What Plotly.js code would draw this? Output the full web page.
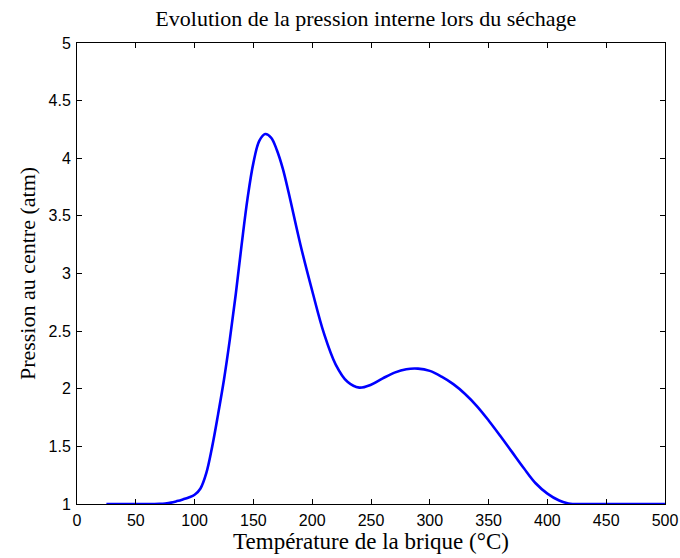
<!DOCTYPE html>
<html>
<head>
<meta charset="utf-8">
<script src="https://cdn.plot.ly/plotly-3.0.1.min.js"></script>
<style>
html,body{margin:0;padding:0;background:#fff;}
#chart{width:680px;height:558px;}
</style>
</head>
<body>
<div id="chart"></div>
<script>
const temperature = [25, 40, 50, 60, 70, 75, 80, 85, 90, 95, 100, 105, 110, 115, 120, 125, 130, 135, 140, 145, 150, 155, 160, 165, 170, 175, 180, 190, 200, 210, 220, 230, 240, 250, 260, 270, 280, 290, 300, 310, 320, 330, 340, 350, 360, 370, 380, 390, 400, 410, 418, 430, 450, 475, 500];
const pressure    = [1.0, 1.0, 1.0, 1.0, 1.002, 1.005, 1.012, 1.025, 1.04, 1.057, 1.08, 1.135, 1.27, 1.5, 1.78, 2.08, 2.43, 2.82, 3.25, 3.65, 3.96, 4.15, 4.21, 4.18, 4.07, 3.91, 3.70, 3.25, 2.85, 2.48, 2.21, 2.06, 2.01, 2.035, 2.09, 2.14, 2.17, 2.175, 2.155, 2.105, 2.04, 1.955, 1.85, 1.725, 1.59, 1.45, 1.31, 1.18, 1.09, 1.03, 1.005, 1.0, 1.0, 1.0, 1.0];
const xTicks = [0, 50, 100, 150, 200, 250, 300, 350, 400, 450, 500];
const yTicks = [1, 1.5, 2, 2.5, 3, 3.5, 4, 4.5, 5];

const trace = {
  x: temperature,
  y: pressure,
  type: 'scatter',
  mode: 'lines',
  line: {color: '#0000ff', width: 2.6, shape: 'spline', smoothing: 1},
  hoverinfo: 'x+y'
};

const axisCommon = {
  showline: true,
  linecolor: '#000',
  linewidth: 1,
  mirror: 'ticks',
  ticks: 'inside',
  ticklen: 5,
  tickcolor: '#000',
  tickwidth: 1,
  showgrid: false,
  zeroline: false,
  tickfont: {family: 'Liberation Sans, Arial, sans-serif', size: 16, color: '#000'}
};

const layout = {
  width: 680,
  height: 558,
  margin: {l: 77, r: 15, t: 43, b: 54, pad: 0},
  paper_bgcolor: '#fff',
  plot_bgcolor: '#fff',
  showlegend: false,
  title: {
    text: 'Evolution de la pression interne lors du séchage',
    font: {family: 'Liberation Serif, Times New Roman, serif', size: 22, color: '#000'},
    x: 0.538, xanchor: 'center', y: 0.967, yanchor: 'middle'
  },
  xaxis: Object.assign({}, axisCommon, {
    range: [0, 500],
    tickvals: xTicks,
    ticktext: xTicks.map(String),
    ticklabelstandoff: 2,
    title: {text: 'Température de la brique (°C)', font: {family: 'Liberation Serif, Times New Roman, serif', size: 23, color: '#000'}, standoff: 2}
  }),
  yaxis: Object.assign({}, axisCommon, {
    range: [1, 5],
    tickvals: yTicks,
    ticktext: yTicks.map(String),
    ticklabelstandoff: 2,
    title: {text: 'Pression au centre (atm)', font: {family: 'Liberation Serif, Times New Roman, serif', size: 22, color: '#000'}, standoff: 6}
  })
};

Plotly.newPlot('chart', [trace], layout, {displayModeBar: false, staticPlot: true});
</script>
</body>
</html>
